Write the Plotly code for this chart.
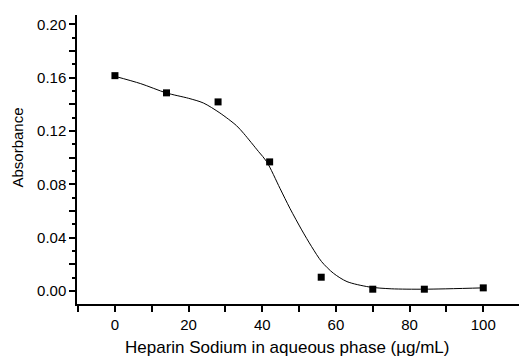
import plotly.graph_objects as go

# measured data points
conc = [0, 14, 28, 42, 56, 70, 84, 100]
absorb = [0.1615, 0.1486, 0.1418, 0.0968, 0.0103, 0.0013, 0.0013, 0.0023]

# fitted curve
fit_x = [0, 7, 14, 20, 24, 28.5, 33, 35, 39, 41.2, 44.8, 47.5, 50.7, 53.4, 56.1, 59.3, 63, 69, 75, 84, 100]
fit_y = [0.161, 0.1555, 0.1485, 0.1445, 0.141, 0.1335, 0.124, 0.118, 0.1045, 0.097, 0.077, 0.062,
         0.0458, 0.0332, 0.022, 0.0133, 0.007, 0.003, 0.0016, 0.0013, 0.0023]

x_ticks = [0, 20, 40, 60, 80, 100]
y_ticks = [0.00, 0.02, 0.04, 0.06, 0.08, 0.10, 0.12, 0.14, 0.16, 0.18, 0.20]
y_labels = ["0.00", "", "0.04", "", "0.08", "", "0.12", "", "0.16", "", "0.20"]

font = "Liberation Sans, Arial, sans-serif"

fig = go.Figure()
fig.add_trace(go.Scatter(x=fit_x, y=fit_y, mode="lines",
                         line=dict(color="black", width=1, shape="spline", smoothing=0.8),
                         hoverinfo="skip", showlegend=False))
fig.add_trace(go.Scatter(x=conc, y=absorb, mode="markers",
                         marker=dict(symbol="square", size=7, color="black"),
                         showlegend=False))

fig.update_layout(
    width=519, height=360,
    margin=dict(l=77, r=0, t=15, b=56),
    paper_bgcolor="white", plot_bgcolor="white",
    font=dict(family=font, size=15, color="black"),
    xaxis=dict(range=[-10.3, 109.7], tickvals=x_ticks, ticktext=[str(v) for v in x_ticks],
               showgrid=False, zeroline=False, showline=True, linecolor="black", linewidth=1.5,
               ticks="outside", ticklen=6, tickwidth=1.5, tickcolor="black",
               minor=dict(dtick=10, tick0=0, ticks="outside", ticklen=6, tickwidth=1.5, tickcolor="black"),
               tickfont=dict(size=15)),
    yaxis=dict(range=[-0.0098, 0.207], tickvals=y_ticks, ticktext=y_labels,
               showgrid=False, zeroline=False, showline=True, linecolor="black", linewidth=1.5,
               ticks="outside", ticklen=6, tickwidth=1.5, tickcolor="black",
               minor=dict(dtick=0.01, tick0=0, ticks="outside", ticklen=3, tickwidth=1.5, tickcolor="black"),
               tickfont=dict(size=15)),
    annotations=[
        dict(text="Heparin Sodium in aqueous phase (µg/mL)", xref="paper", yref="paper",
             x=0.474, y=-0.152, xanchor="center", yanchor="middle", showarrow=False,
             font=dict(size=17)),
        dict(text="Absorbance", xref="paper", yref="paper", x=-0.1335, y=0.5415,
             xanchor="center", yanchor="middle", textangle=-90, showarrow=False,
             font=dict(size=15)),
    ],
)

fig.write_html("out.html")
